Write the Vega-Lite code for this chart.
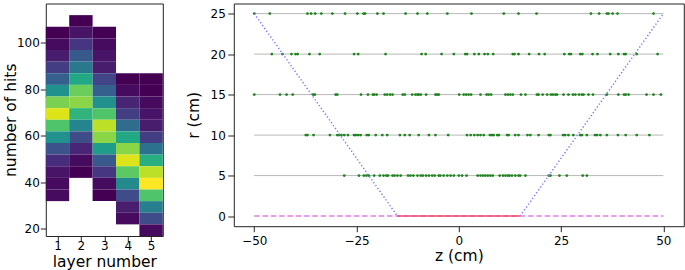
{
  "$schema": "https://vega.github.io/schema/vega-lite/v6.json",
  "background": "white",
  "padding": {"left": 1.8, "top": 2.5, "right": 0, "bottom": 0},
  "bounds": "flush",
  "spacing": 71,
  "config": {
    "font": "DejaVu Sans",
    "view": {"stroke": "#222", "strokeWidth": 1},
    "axis": {"grid": false, "domain": false, "labelFontSize": 12, "titleFontSize": 15.5, "titleFontWeight": "normal", "labelColor": "#000", "titleColor": "#000", "tickColor": "#222", "tickSize": 5.5, "labelPadding": 1, "titlePadding": 2, "labelFont": "DejaVu Sans", "titleFont": "DejaVu Sans"}
  },
  "datasets": {
    "hist": [
      {"layer": 1, "x0": 0.5, "x1": 1.5, "lo": 101.8, "hi": 106.8, "count": 1},
      {"layer": 1, "x0": 0.5, "x1": 1.5, "lo": 96.8, "hi": 101.8, "count": 2},
      {"layer": 1, "x0": 0.5, "x1": 1.5, "lo": 91.8, "hi": 96.8, "count": 4},
      {"layer": 1, "x0": 0.5, "x1": 1.5, "lo": 86.8, "hi": 91.8, "count": 8},
      {"layer": 1, "x0": 0.5, "x1": 1.5, "lo": 81.8, "hi": 86.8, "count": 13},
      {"layer": 1, "x0": 0.5, "x1": 1.5, "lo": 76.8, "hi": 81.8, "count": 21},
      {"layer": 1, "x0": 0.5, "x1": 1.5, "lo": 71.8, "hi": 76.8, "count": 33},
      {"layer": 1, "x0": 0.5, "x1": 1.5, "lo": 66.8, "hi": 71.8, "count": 39},
      {"layer": 1, "x0": 0.5, "x1": 1.5, "lo": 61.8, "hi": 66.8, "count": 30},
      {"layer": 1, "x0": 0.5, "x1": 1.5, "lo": 56.8, "hi": 61.8, "count": 21},
      {"layer": 1, "x0": 0.5, "x1": 1.5, "lo": 51.8, "hi": 56.8, "count": 11},
      {"layer": 1, "x0": 0.5, "x1": 1.5, "lo": 46.8, "hi": 51.8, "count": 6},
      {"layer": 1, "x0": 0.5, "x1": 1.5, "lo": 41.8, "hi": 46.8, "count": 3},
      {"layer": 1, "x0": 0.5, "x1": 1.5, "lo": 36.8, "hi": 41.8, "count": 2},
      {"layer": 1, "x0": 0.5, "x1": 1.5, "lo": 31.8, "hi": 36.8, "count": 2},
      {"layer": 2, "x0": 1.5, "x1": 2.5, "lo": 106.8, "hi": 111.8, "count": 1},
      {"layer": 2, "x0": 1.5, "x1": 2.5, "lo": 101.8, "hi": 106.8, "count": 3},
      {"layer": 2, "x0": 1.5, "x1": 2.5, "lo": 96.8, "hi": 101.8, "count": 7},
      {"layer": 2, "x0": 1.5, "x1": 2.5, "lo": 91.8, "hi": 96.8, "count": 12},
      {"layer": 2, "x0": 1.5, "x1": 2.5, "lo": 86.8, "hi": 91.8, "count": 17},
      {"layer": 2, "x0": 1.5, "x1": 2.5, "lo": 81.8, "hi": 86.8, "count": 25},
      {"layer": 2, "x0": 1.5, "x1": 2.5, "lo": 76.8, "hi": 81.8, "count": 32},
      {"layer": 2, "x0": 1.5, "x1": 2.5, "lo": 71.8, "hi": 76.8, "count": 34},
      {"layer": 2, "x0": 1.5, "x1": 2.5, "lo": 66.8, "hi": 71.8, "count": 27},
      {"layer": 2, "x0": 1.5, "x1": 2.5, "lo": 61.8, "hi": 66.8, "count": 19},
      {"layer": 2, "x0": 1.5, "x1": 2.5, "lo": 56.8, "hi": 61.8, "count": 10},
      {"layer": 2, "x0": 1.5, "x1": 2.5, "lo": 51.8, "hi": 56.8, "count": 5},
      {"layer": 2, "x0": 1.5, "x1": 2.5, "lo": 46.8, "hi": 51.8, "count": 2},
      {"layer": 2, "x0": 1.5, "x1": 2.5, "lo": 41.8, "hi": 46.8, "count": 1},
      {"layer": 3, "x0": 2.5, "x1": 3.5, "lo": 101.8, "hi": 106.8, "count": 1},
      {"layer": 3, "x0": 2.5, "x1": 3.5, "lo": 96.8, "hi": 101.8, "count": 2},
      {"layer": 3, "x0": 2.5, "x1": 3.5, "lo": 91.8, "hi": 96.8, "count": 3},
      {"layer": 3, "x0": 2.5, "x1": 3.5, "lo": 86.8, "hi": 91.8, "count": 4},
      {"layer": 3, "x0": 2.5, "x1": 3.5, "lo": 81.8, "hi": 86.8, "count": 9},
      {"layer": 3, "x0": 2.5, "x1": 3.5, "lo": 76.8, "hi": 81.8, "count": 13},
      {"layer": 3, "x0": 2.5, "x1": 3.5, "lo": 71.8, "hi": 76.8, "count": 21},
      {"layer": 3, "x0": 2.5, "x1": 3.5, "lo": 66.8, "hi": 71.8, "count": 30},
      {"layer": 3, "x0": 2.5, "x1": 3.5, "lo": 61.8, "hi": 66.8, "count": 37},
      {"layer": 3, "x0": 2.5, "x1": 3.5, "lo": 56.8, "hi": 61.8, "count": 34},
      {"layer": 3, "x0": 2.5, "x1": 3.5, "lo": 51.8, "hi": 56.8, "count": 23},
      {"layer": 3, "x0": 2.5, "x1": 3.5, "lo": 46.8, "hi": 51.8, "count": 12},
      {"layer": 3, "x0": 2.5, "x1": 3.5, "lo": 41.8, "hi": 46.8, "count": 7},
      {"layer": 3, "x0": 2.5, "x1": 3.5, "lo": 36.8, "hi": 41.8, "count": 2},
      {"layer": 3, "x0": 2.5, "x1": 3.5, "lo": 31.8, "hi": 36.8, "count": 1},
      {"layer": 4, "x0": 3.5, "x1": 4.5, "lo": 81.8, "hi": 86.8, "count": 1},
      {"layer": 4, "x0": 3.5, "x1": 4.5, "lo": 76.8, "hi": 81.8, "count": 2},
      {"layer": 4, "x0": 3.5, "x1": 4.5, "lo": 71.8, "hi": 76.8, "count": 5},
      {"layer": 4, "x0": 3.5, "x1": 4.5, "lo": 66.8, "hi": 71.8, "count": 8},
      {"layer": 4, "x0": 3.5, "x1": 4.5, "lo": 61.8, "hi": 66.8, "count": 15},
      {"layer": 4, "x0": 3.5, "x1": 4.5, "lo": 56.8, "hi": 61.8, "count": 25},
      {"layer": 4, "x0": 3.5, "x1": 4.5, "lo": 51.8, "hi": 56.8, "count": 34},
      {"layer": 4, "x0": 3.5, "x1": 4.5, "lo": 46.8, "hi": 51.8, "count": 39},
      {"layer": 4, "x0": 3.5, "x1": 4.5, "lo": 41.8, "hi": 46.8, "count": 31},
      {"layer": 4, "x0": 3.5, "x1": 4.5, "lo": 36.8, "hi": 41.8, "count": 20},
      {"layer": 4, "x0": 3.5, "x1": 4.5, "lo": 31.8, "hi": 36.8, "count": 10},
      {"layer": 4, "x0": 3.5, "x1": 4.5, "lo": 26.8, "hi": 31.8, "count": 4},
      {"layer": 4, "x0": 3.5, "x1": 4.5, "lo": 21.8, "hi": 26.8, "count": 2},
      {"layer": 5, "x0": 4.5, "x1": 5.5, "lo": 81.8, "hi": 86.8, "count": 1},
      {"layer": 5, "x0": 4.5, "x1": 5.5, "lo": 76.8, "hi": 81.8, "count": 1},
      {"layer": 5, "x0": 4.5, "x1": 5.5, "lo": 71.8, "hi": 76.8, "count": 2},
      {"layer": 5, "x0": 4.5, "x1": 5.5, "lo": 66.8, "hi": 71.8, "count": 3},
      {"layer": 5, "x0": 4.5, "x1": 5.5, "lo": 61.8, "hi": 66.8, "count": 4},
      {"layer": 5, "x0": 4.5, "x1": 5.5, "lo": 56.8, "hi": 61.8, "count": 8},
      {"layer": 5, "x0": 4.5, "x1": 5.5, "lo": 51.8, "hi": 56.8, "count": 16},
      {"layer": 5, "x0": 4.5, "x1": 5.5, "lo": 46.8, "hi": 51.8, "count": 26},
      {"layer": 5, "x0": 4.5, "x1": 5.5, "lo": 41.8, "hi": 46.8, "count": 37},
      {"layer": 5, "x0": 4.5, "x1": 5.5, "lo": 36.8, "hi": 41.8, "count": 41},
      {"layer": 5, "x0": 4.5, "x1": 5.5, "lo": 31.8, "hi": 36.8, "count": 30},
      {"layer": 5, "x0": 4.5, "x1": 5.5, "lo": 26.8, "hi": 31.8, "count": 18},
      {"layer": 5, "x0": 4.5, "x1": 5.5, "lo": 21.8, "hi": 26.8, "count": 10},
      {"layer": 5, "x0": 4.5, "x1": 5.5, "lo": 16.8, "hi": 21.8, "count": 2}
    ],
    "hl": [
      {"r": 5, "z1": -50, "z2": 50},
      {"r": 10, "z1": -50, "z2": 50},
      {"r": 15, "z1": -50, "z2": 50},
      {"r": 20, "z1": -50, "z2": 50},
      {"r": 25, "z1": -50, "z2": 50}
    ],
    "base": [{"r": 0, "z1": -50, "z2": 50}],
    "target": [{"r": 0, "z1": -15, "z2": 15}],
    "cone": [
      {"side": "L", "z": -50, "r": 25},
      {"side": "L", "z": -15, "r": 0},
      {"side": "R", "z": 15, "r": 0},
      {"side": "R", "z": 50, "r": 25}
    ],
    "pts": [
      {"r": 25, "z": -50.0}, {"r": 25, "z": -46.2}, {"r": 25, "z": -37.0}, {"r": 25, "z": -36.1}, {"r": 25, "z": -35.1}, {"r": 25, "z": -33.6}, {"r": 25, "z": -30.9}, {"r": 25, "z": -27.8}, {"r": 25, "z": -24.8}, {"r": 25, "z": -23.3}, {"r": 25, "z": -22.9}, {"r": 25, "z": -19.9}, {"r": 25, "z": -18.4}, {"r": 25, "z": -13.0}, {"r": 25, "z": -10.1}, {"r": 25, "z": -7.7}, {"r": 25, "z": -2.8}, {"r": 25, "z": 3.1}, {"r": 25, "z": 11.0}, {"r": 25, "z": 14.6}, {"r": 25, "z": 19.0}, {"r": 25, "z": 32.3}, {"r": 25, "z": 34.3}, {"r": 25, "z": 36.2}, {"r": 25, "z": 36.6}, {"r": 25, "z": 37.6}, {"r": 25, "z": 38.8}, {"r": 25, "z": 47.6},
      {"r": 20, "z": -45.7}, {"r": 20, "z": -43.1}, {"r": 20, "z": -40.9}, {"r": 20, "z": -39.9}, {"r": 20, "z": -39.4}, {"r": 20, "z": -36.5}, {"r": 20, "z": -34.0}, {"r": 20, "z": -25.6}, {"r": 20, "z": -24.6}, {"r": 20, "z": -17.9}, {"r": 20, "z": -9.1}, {"r": 20, "z": -8.1}, {"r": 20, "z": -4.2}, {"r": 20, "z": -1.2}, {"r": 20, "z": 1.6}, {"r": 20, "z": 2.0}, {"r": 20, "z": 3.8}, {"r": 20, "z": 4.9}, {"r": 20, "z": 6.3}, {"r": 20, "z": 7.1}, {"r": 20, "z": 8.4}, {"r": 20, "z": 13.2}, {"r": 20, "z": 13.6}, {"r": 20, "z": 14.6}, {"r": 20, "z": 17.2}, {"r": 20, "z": 19.6}, {"r": 20, "z": 21.0}, {"r": 20, "z": 25.8}, {"r": 20, "z": 27.0}, {"r": 20, "z": 27.4}, {"r": 20, "z": 29.7}, {"r": 20, "z": 30.2}, {"r": 20, "z": 32.7}, {"r": 20, "z": 33.9}, {"r": 20, "z": 37.0}, {"r": 20, "z": 39.0}, {"r": 20, "z": 40.4}, {"r": 20, "z": 40.8}, {"r": 20, "z": 43.5}, {"r": 20, "z": 48.6},
      {"r": 15, "z": -50.0}, {"r": 15, "z": -43.7}, {"r": 15, "z": -42.1}, {"r": 15, "z": -40.6}, {"r": 15, "z": -35.6}, {"r": 15, "z": -35.2}, {"r": 15, "z": -30.1}, {"r": 15, "z": -29.7}, {"r": 15, "z": -23.9}, {"r": 15, "z": -22.2}, {"r": 15, "z": -21.0}, {"r": 15, "z": -20.7}, {"r": 15, "z": -20.1}, {"r": 15, "z": -18.1}, {"r": 15, "z": -17.5}, {"r": 15, "z": -16.8}, {"r": 15, "z": -16.2}, {"r": 15, "z": -13.7}, {"r": 15, "z": -13.2}, {"r": 15, "z": -11.4}, {"r": 15, "z": -10.6}, {"r": 15, "z": -10.1}, {"r": 15, "z": -9.8}, {"r": 15, "z": -9.3}, {"r": 15, "z": -8.0}, {"r": 15, "z": -5.7}, {"r": 15, "z": -5.3}, {"r": 15, "z": -4.9}, {"r": 15, "z": 0.1}, {"r": 15, "z": 1.2}, {"r": 15, "z": 1.8}, {"r": 15, "z": 2.4}, {"r": 15, "z": 3.0}, {"r": 15, "z": 5.3}, {"r": 15, "z": 6.8}, {"r": 15, "z": 7.3}, {"r": 15, "z": 7.9}, {"r": 15, "z": 11.4}, {"r": 15, "z": 12.0}, {"r": 15, "z": 12.6}, {"r": 15, "z": 13.2}, {"r": 15, "z": 15.2}, {"r": 15, "z": 16.3}, {"r": 15, "z": 19.1}, {"r": 15, "z": 19.5}, {"r": 15, "z": 20.5}, {"r": 15, "z": 21.6}, {"r": 15, "z": 22.5}, {"r": 15, "z": 23.0}, {"r": 15, "z": 23.6}, {"r": 15, "z": 24.0}, {"r": 15, "z": 25.6}, {"r": 15, "z": 26.8}, {"r": 15, "z": 27.9}, {"r": 15, "z": 28.5}, {"r": 15, "z": 29.4}, {"r": 15, "z": 30.1}, {"r": 15, "z": 30.5}, {"r": 15, "z": 31.7}, {"r": 15, "z": 32.8}, {"r": 15, "z": 36.2}, {"r": 15, "z": 39.0}, {"r": 15, "z": 40.4}, {"r": 15, "z": 40.8}, {"r": 15, "z": 41.5}, {"r": 15, "z": 45.9}, {"r": 15, "z": 47.6}, {"r": 15, "z": 49.4},
      {"r": 10, "z": -37.4}, {"r": 10, "z": -37.0}, {"r": 10, "z": -35.5}, {"r": 10, "z": -31.5}, {"r": 10, "z": -29.7}, {"r": 10, "z": -29.3}, {"r": 10, "z": -28.7}, {"r": 10, "z": -28.0}, {"r": 10, "z": -27.1}, {"r": 10, "z": -25.6}, {"r": 10, "z": -25.2}, {"r": 10, "z": -24.6}, {"r": 10, "z": -24.0}, {"r": 10, "z": -22.5}, {"r": 10, "z": -22.0}, {"r": 10, "z": -20.3}, {"r": 10, "z": -18.7}, {"r": 10, "z": -17.5}, {"r": 10, "z": -14.4}, {"r": 10, "z": -13.2}, {"r": 10, "z": -12.0}, {"r": 10, "z": -9.8}, {"r": 10, "z": -7.3}, {"r": 10, "z": -5.7}, {"r": 10, "z": -2.6}, {"r": 10, "z": 2.0}, {"r": 10, "z": 2.9}, {"r": 10, "z": 3.8}, {"r": 10, "z": 4.6}, {"r": 10, "z": 5.3}, {"r": 10, "z": 6.1}, {"r": 10, "z": 7.6}, {"r": 10, "z": 8.1}, {"r": 10, "z": 8.5}, {"r": 10, "z": 9.4}, {"r": 10, "z": 9.8}, {"r": 10, "z": 11.8}, {"r": 10, "z": 12.2}, {"r": 10, "z": 13.8}, {"r": 10, "z": 14.6}, {"r": 10, "z": 16.8}, {"r": 10, "z": 17.5}, {"r": 10, "z": 19.5}, {"r": 10, "z": 22.0}, {"r": 10, "z": 22.4}, {"r": 10, "z": 25.5}, {"r": 10, "z": 26.0}, {"r": 10, "z": 26.8}, {"r": 10, "z": 28.0}, {"r": 10, "z": 29.7}, {"r": 10, "z": 30.1}, {"r": 10, "z": 31.3}, {"r": 10, "z": 33.3}, {"r": 10, "z": 33.8}, {"r": 10, "z": 34.6}, {"r": 10, "z": 36.2}, {"r": 10, "z": 38.9}, {"r": 10, "z": 40.8}, {"r": 10, "z": 43.5}, {"r": 10, "z": 46.6},
      {"r": 5, "z": -28.0}, {"r": 5, "z": -24.4}, {"r": 5, "z": -23.2}, {"r": 5, "z": -22.6}, {"r": 5, "z": -22.0}, {"r": 5, "z": -20.7}, {"r": 5, "z": -19.3}, {"r": 5, "z": -18.4}, {"r": 5, "z": -17.7}, {"r": 5, "z": -17.3}, {"r": 5, "z": -16.2}, {"r": 5, "z": -15.7}, {"r": 5, "z": -15.0}, {"r": 5, "z": -14.2}, {"r": 5, "z": -12.4}, {"r": 5, "z": -11.8}, {"r": 5, "z": -11.1}, {"r": 5, "z": -10.1}, {"r": 5, "z": -9.3}, {"r": 5, "z": -8.8}, {"r": 5, "z": -8.0}, {"r": 5, "z": -7.3}, {"r": 5, "z": -6.5}, {"r": 5, "z": -5.9}, {"r": 5, "z": -4.9}, {"r": 5, "z": -4.5}, {"r": 5, "z": -3.7}, {"r": 5, "z": -2.8}, {"r": 5, "z": -2.0}, {"r": 5, "z": -1.2}, {"r": 5, "z": 0.0}, {"r": 5, "z": 0.8}, {"r": 5, "z": 1.9}, {"r": 5, "z": 4.6}, {"r": 5, "z": 5.3}, {"r": 5, "z": 5.9}, {"r": 5, "z": 6.5}, {"r": 5, "z": 7.1}, {"r": 5, "z": 7.7}, {"r": 5, "z": 8.3}, {"r": 5, "z": 10.0}, {"r": 5, "z": 10.8}, {"r": 5, "z": 11.4}, {"r": 5, "z": 12.0}, {"r": 5, "z": 12.4}, {"r": 5, "z": 13.0}, {"r": 5, "z": 13.8}, {"r": 5, "z": 14.6}, {"r": 5, "z": 15.0}, {"r": 5, "z": 16.3}, {"r": 5, "z": 22.0}, {"r": 5, "z": 22.4}, {"r": 5, "z": 24.6}, {"r": 5, "z": 26.4}, {"r": 5, "z": 30.3}, {"r": 5, "z": 31.3}
    ]
  },
  "hconcat": [
    {
      "width": 117,
      "height": 232.5,
      "data": {"name": "hist"},
      "mark": {"type": "rect", "strokeWidth": 0},
      "encoding": {
        "x": {"field": "x0", "type": "quantitative", "scale": {"domain": [0.5, 5.5], "nice": false, "zero": false}, "axis": {"values": [1, 2, 3, 4, 5], "title": "layer number", "labelPadding": -0.5, "titlePadding": 2.8}},
        "x2": {"field": "x1"},
        "y": {"field": "lo", "type": "quantitative", "scale": {"domain": [16.8, 116.8], "nice": false, "zero": false}, "axis": {"values": [20, 40, 60, 80, 100], "title": "number of hits", "titlePadding": -1.7}},
        "y2": {"field": "hi"},
        "color": {"field": "count", "type": "quantitative", "scale": {"scheme": "viridis", "domain": [1, 41]}, "legend": null}
      }
    },
    {
      "width": 450,
      "height": 222.7,
      "layer": [
        {
          "data": {"name": "hl"},
          "mark": {"type": "rule", "color": "#b8b8b8", "strokeWidth": 1},
          "encoding": {
            "x": {"field": "z1", "type": "quantitative", "scale": {"domain": [-55, 55], "nice": false}, "axis": {"values": [-50, -25, 0, 25, 50], "title": "z (cm)", "labelPadding": 3.5, "titlePadding": 2.5}},
            "x2": {"field": "z2"},
            "y": {"field": "r", "type": "quantitative", "scale": {"domain": [-1.25, 26.25], "nice": false, "zero": false}, "axis": {"values": [0, 5, 10, 15, 20, 25], "title": "r (cm)", "tickSize": 6, "labelPadding": 2.5, "titlePadding": 9}}
          }
        },
        {
          "data": {"name": "pts"},
          "mark": {"type": "circle", "color": "#1e841e", "opacity": 1, "size": 8},
          "encoding": {
            "x": {"field": "z", "type": "quantitative"},
            "y": {"field": "r", "type": "quantitative"}
          }
        },
        {
          "data": {"name": "cone"},
          "mark": {"type": "line", "color": "#7b7bff", "strokeWidth": 1.5, "strokeDash": [1.3, 2.2]},
          "encoding": {
            "x": {"field": "z", "type": "quantitative"},
            "y": {"field": "r", "type": "quantitative"},
            "detail": {"field": "side"}
          }
        },
        {
          "data": {"name": "base"},
          "mark": {"type": "rule", "color": "#e47be4", "strokeWidth": 1.5, "strokeDash": [5.5, 2.8]},
          "encoding": {
            "x": {"field": "z1", "type": "quantitative"},
            "x2": {"field": "z2"},
            "y": {"field": "r", "type": "quantitative"}
          }
        },
        {
          "data": {"name": "target"},
          "mark": {"type": "rule", "color": "#ee4c6c", "strokeWidth": 1.5},
          "encoding": {
            "x": {"field": "z1", "type": "quantitative"},
            "x2": {"field": "z2"},
            "y": {"field": "r", "type": "quantitative"}
          }
        }
      ]
    }
  ]
}
